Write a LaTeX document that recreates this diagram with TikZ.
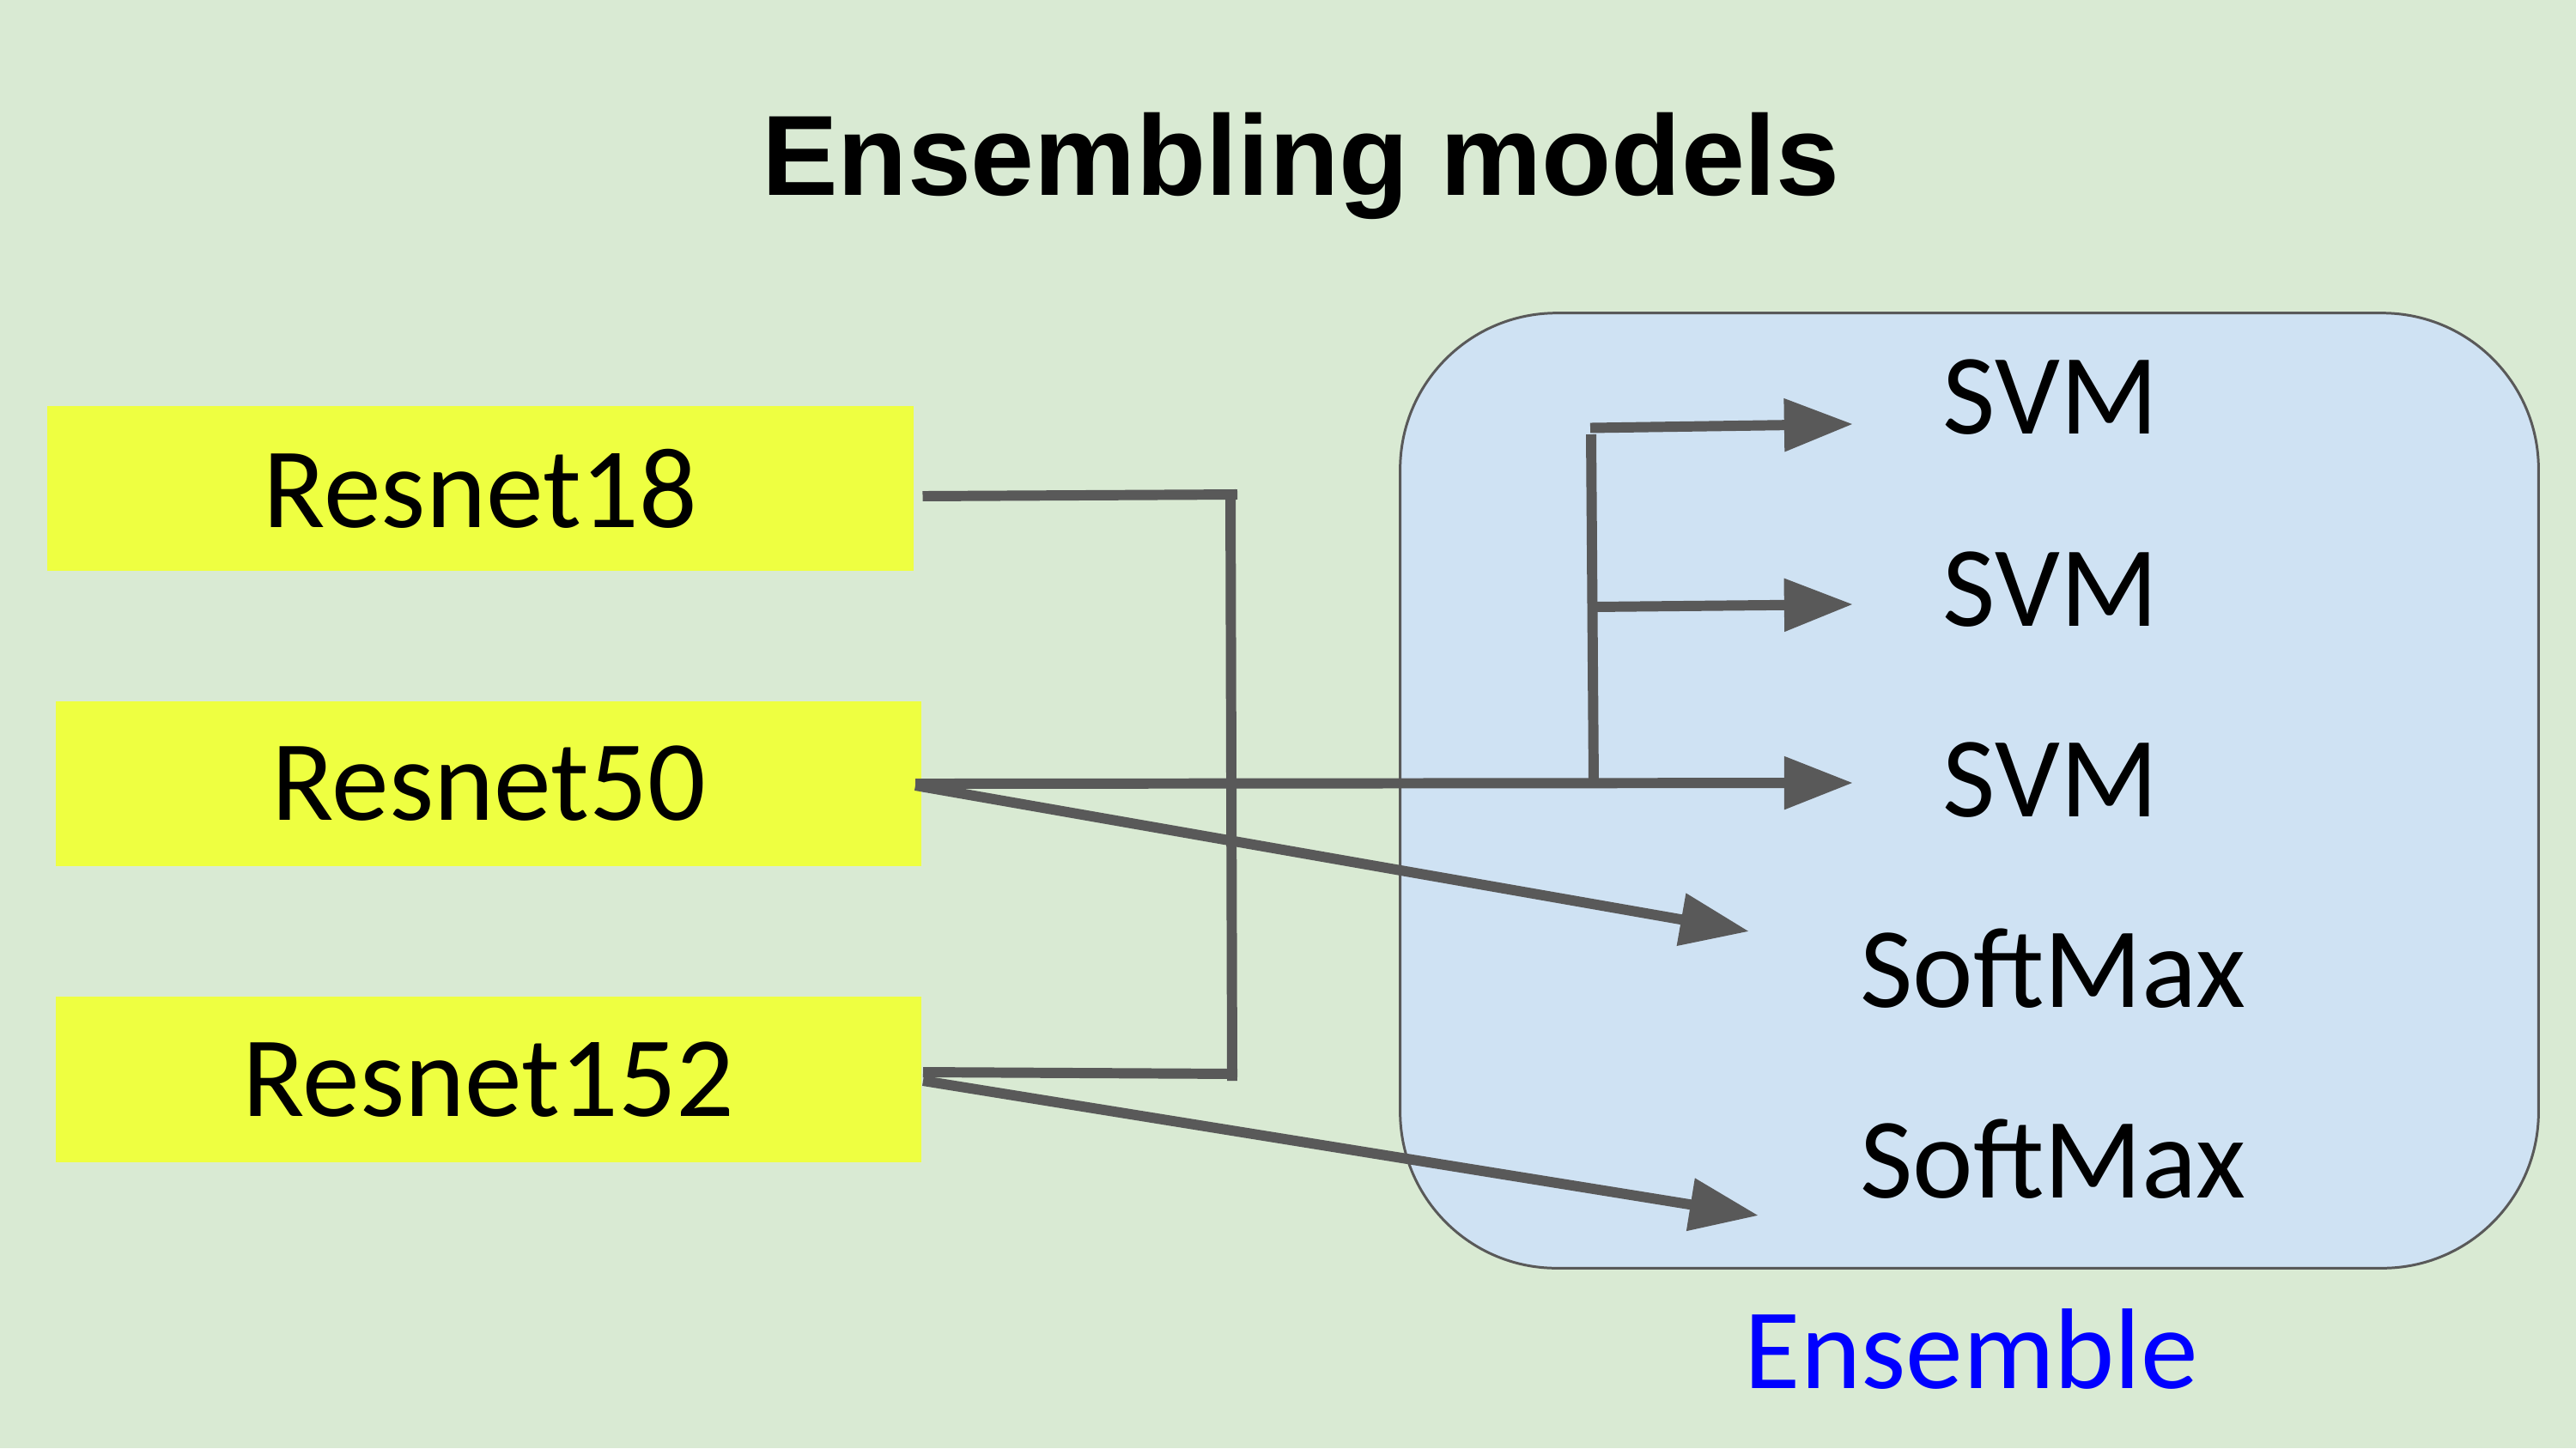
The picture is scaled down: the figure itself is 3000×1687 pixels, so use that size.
\documentclass[tikz,border=0pt]{standalone}
\usepackage{fontspec}
\setmainfont{Carlito}
\newfontfamily\titlefont{Liberation Sans}
\usetikzlibrary{arrows.meta}
\definecolor{bggreen}{HTML}{D9EAD3}
\definecolor{ensblue}{HTML}{CFE2F3}
\definecolor{resyellow}{HTML}{EEFF41}
\definecolor{linegray}{HTML}{595959}
\definecolor{ensfont}{HTML}{0000FF}
\tikzset{
  resbox/.style={fill=resyellow, draw=none, minimum width=10.08cm, minimum height=1.92cm, inner sep=0pt,
    font=\fontsize{38}{46}\selectfont},
  lbl/.style={anchor=base, inner sep=0pt, font=\fontsize{38}{46}\selectfont},
  conn/.style={draw=linegray, line width=3.4pt},
  arr/.style={conn, -{Triangle[length=22.8pt, width=16.8pt]}},
  ensbox/.style={draw=linegray, line width=0.85pt, fill=ensblue, rounded corners=1.82cm,
    minimum width=13.25cm, minimum height=11.12cm, inner sep=0pt}
}
\begin{document}
\begin{tikzpicture}[x=0.01cm, y=-0.01cm]
\fill[bggreen] (0,0) rectangle (3000,1687);
\useasboundingbox (0,0) rectangle (3000,1687);

% title
\node[anchor=base, inner sep=0pt, font=\titlefont\bfseries\fontsize{37.8}{45}\selectfont] (title) at (1515,227) {Ensembling models};

% ensemble container
\node[ensbox] (ens) at (2293.5,921) {};
\node[lbl, text=ensfont] (enslbl) at (2296,1617) {Ensemble};

% models
\node[resbox] (r18) at (559.5,569) {Resnet18};
\node[resbox] (r50) at (569,913) {Resnet50};
\node[resbox] (r152) at (569,1257.5) {Resnet152};

% classifiers
\node[lbl] (svm1) at (2388,505) {SVM};
\node[lbl] (svm2) at (2388,729) {SVM};
\node[lbl] (svm3) at (2388,951) {SVM};
\node[lbl] (sm1) at (2391,1173) {SoftMax};
\node[lbl] (sm2) at (2391,1395) {SoftMax};

% junctions and arrow tips
\coordinate (j18) at (1441,576);
\coordinate (vtop) at (1433,570);
\coordinate (vbot) at (1435,1259);
\coordinate (j152) at (1441,1251);
\coordinate (btop) at (1853,506);
\coordinate (bbot) at (1856,913);
\coordinate (b1) at (1852,498.5);
\coordinate (b2) at (1856,707);
\coordinate (t1) at (2158,494);
\coordinate (t2) at (2158,704);
\coordinate (t3) at (2158,912);
\coordinate (t4) at (2037,1085);
\coordinate (t5) at (2048,1416);

% bracket joining Resnet18 and Resnet152
\draw[conn] ([shift={(10,9)}]r18.east) -- (j18);
\draw[conn] (vtop) -- (vbot);
\draw[conn] ([shift={(1,-8.5)}]r152.east) -- (j152);

% Resnet50 to SVMs and SoftMax
\draw[arr] ([shift={(-8,0)}]r50.east) -- (t3);
\draw[conn] (btop) -- (bbot);
\draw[arr] (b1) -- (t1);
\draw[arr] (b2) -- (t2);
\draw[arr] ([shift={(-8,2)}]r50.east) -- (t4);

% Resnet152 to SoftMax
\draw[arr] ([shift={(1,1.5)}]r152.east) -- (t5);
\end{tikzpicture}
\end{document}
